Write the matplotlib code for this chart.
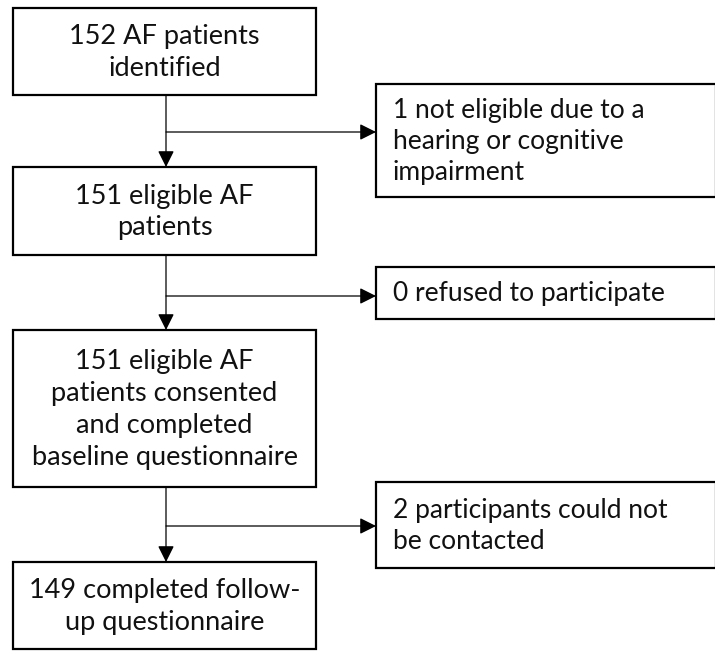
import matplotlib.pyplot as plt
from matplotlib.patches import Rectangle, FancyArrowPatch

# flow chart content
main_labels = [
    "152 AF patients\nidentified",
    "151 eligible AF\npatients",
    "151 eligible AF\npatients consented\nand completed\nbaseline questionnaire",
    "149 completed follow-\nup questionnaire",
]
side_labels = [
    "1 not eligible due to a\nhearing or cognitive\nimpairment",
    "0 refused to participate",
    "2 participants could not\nbe contacted",
]

# layout in pixels (y down)
main_boxes = [(13, 8, 316, 95), (13, 167, 316, 255), (13, 330, 316, 487), (13, 562, 316, 649)]
side_boxes = [(376, 84, 716, 197), (376, 267, 716, 319), (376, 482, 716, 568)]
branch_y = [132, 296, 526]
stem_x = 166

plt.rcParams['font.family'] = ['Lato', 'DejaVu Sans']

fig = plt.figure(figsize=(7.15, 6.56), dpi=100)
ax = fig.add_axes([0, 0, 1, 1])
ax.set_xlim(0, 715)
ax.set_ylim(656, 0)
ax.axis('off')

def box(b, lw=1.6):
    x0, y0, x1, y1 = b
    ax.add_patch(Rectangle((x0, y0), x1 - x0, y1 - y0, fill=False, ec='black', lw=lw))

def arrow(p0, p1):
    ax.add_patch(FancyArrowPatch(p0, p1, arrowstyle='-|>,head_length=0.9,head_width=0.45',
                                 mutation_scale=11, color='black', lw=0.9,
                                 shrinkA=0, shrinkB=0))

for b, lab in zip(main_boxes, main_labels):
    box(b)
    ax.text((b[0] + b[2]) / 2, (b[1] + b[3]) / 2 + 1, lab, ha='center', va='center',
            fontsize=19.5, linespacing=1.34, color='#111111')

for b, lab in zip(side_boxes, side_labels):
    box(b)
    ax.text(b[0] + 17, (b[1] + b[3]) / 2 + 1, lab, ha='left', va='center',
            fontsize=19, linespacing=1.28, color='#111111')

for i in range(3):
    arrow((stem_x, main_boxes[i][3]), (stem_x, main_boxes[i + 1][1]))
    arrow((stem_x, branch_y[i]), (side_boxes[i][0], branch_y[i]))

fig.savefig('out.png', dpi=100, facecolor='white')
